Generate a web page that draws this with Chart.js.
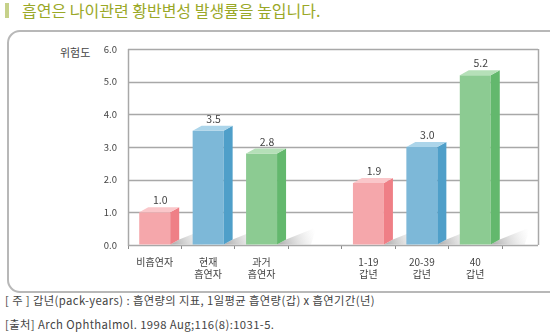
<!DOCTYPE html>
<html><head><meta charset="utf-8">
<script src="https://cdn.jsdelivr.net/npm/chart.js@4"></script>
<style>
html,body{margin:0;padding:0;background:#fff;width:550px;height:334px;overflow:hidden;font-family:"Noto Sans CJK KR","Noto Sans",sans-serif;}
#title{position:absolute;left:22px;top:-1px;font-size:16px;line-height:22px;color:#9aa827;}
#mark{position:absolute;left:5px;top:3px;width:4px;height:15px;background:#c6d18a;}
#box{position:absolute;left:7px;top:30px;width:560px;height:263px;border:2px solid #b8b8b8;border-radius:13px;box-sizing:border-box;}
#ylab{position:absolute;left:60px;top:44px;font-size:11px;color:#444;}
.note{position:absolute;left:5px;font-size:11.3px;color:#444;white-space:nowrap;letter-spacing:0.4px;}
canvas{position:absolute;left:0;top:0;}
</style></head>
<body>
<div id="mark"></div>
<div id="title">흡연은 나이관련 황반변성 발생률을 높입니다.</div>
<div id="box"></div>
<div id="ylab">위험도</div>
<div class="note" style="top:292px">[ 주 ] 갑년(pack-years) : 흡연량의 지표, 1일평균 흡연량(갑) x 흡연기간(년)</div>
<div class="note" style="top:316px">[출처] Arch Ophthalmol. 1998 Aug;116(8):1031-5.</div>
<canvas id="c" width="550" height="334"></canvas>
<script>
const categories = [["비흡연자"], ["현재","흡연자"], ["과거","흡연자"], [""], ["1-19","갑년"], ["20-39","갑년"], ["40","갑년"]];
const riskValues = [1.0, 3.5, 2.8, null, 1.9, 3.0, 5.2];
const yTicks = [0, 1, 2, 3, 4, 5, 6];
const frontColors = ["#f5a7ab", "#7db8d8", "#8ccb92", "#ccc", "#f5a7ab", "#7db8d8", "#8ccb92"];
const sideColors  = ["#ef7f86", "#4f9fc9", "#63b86d", "#ccc", "#ef7f86", "#4f9fc9", "#63b86d"];
const topColors   = ["#fac7ca", "#acd5ea", "#b5e0b8", "#ccc", "#fac7ca", "#acd5ea", "#b5e0b8"];

const DX = 9, DY = 5, PLOT_RIGHT = 538;
const font = '"Noto Sans CJK KR","Noto Sans",sans-serif';

const deco = {
  id: 'deco',
  beforeDatasetsDraw(chart) {
    const ctx = chart.ctx, y = chart.scales.y, ca = chart.chartArea;
    ctx.save();
    ctx.strokeStyle = '#a8a8a8';
    ctx.lineWidth = 1.5;
    yTicks.forEach(v => {
      const py = Math.round(y.getPixelForValue(v)) + 0.5;
      ctx.beginPath(); ctx.moveTo(ca.left, py); ctx.lineTo(PLOT_RIGHT, py); ctx.stroke();
    });
    const top = y.getPixelForValue(6), bot = y.getPixelForValue(0);
    ctx.beginPath(); ctx.moveTo(PLOT_RIGHT + 0.5, top); ctx.lineTo(PLOT_RIGHT + 0.5, bot); ctx.stroke();
    ctx.beginPath(); ctx.moveTo(ca.left + 0.5, top); ctx.lineTo(ca.left + 0.5, bot + 1); ctx.stroke();
    const meta = chart.getDatasetMeta(0);
    meta.data.forEach((bar, i) => {
      if (riskValues[i] == null) return;
      const xr = bar.x + bar.width / 2, base = bar.base;
      const g = ctx.createLinearGradient(xr, base, xr + 38, base - 14);
      g.addColorStop(0, 'rgba(110,110,110,0.6)');
      g.addColorStop(1, 'rgba(200,200,200,0)');
      ctx.fillStyle = g;
      ctx.beginPath();
      ctx.moveTo(xr, base);
      ctx.lineTo(xr + DX, base - DY);
      ctx.lineTo(xr + DX + 30, base - DY - 12);
      ctx.lineTo(xr + 34, base);
      ctx.closePath(); ctx.fill();
    });
    ctx.restore();
  },
  afterDatasetsDraw(chart) {
    const ctx = chart.ctx;
    const meta = chart.getDatasetMeta(0);
    ctx.save();
    meta.data.forEach((bar, i) => {
      if (riskValues[i] == null) return;
      const xl = bar.x - bar.width / 2, xr = bar.x + bar.width / 2, top = bar.y, base = bar.base;
      ctx.fillStyle = sideColors[i];
      ctx.beginPath();
      ctx.moveTo(xr, top); ctx.lineTo(xr + DX, top - DY); ctx.lineTo(xr + DX, base - DY); ctx.lineTo(xr, base);
      ctx.closePath(); ctx.fill();
      ctx.fillStyle = topColors[i];
      ctx.beginPath();
      ctx.moveTo(xl, top); ctx.lineTo(xl + DX, top - DY); ctx.lineTo(xr + DX, top - DY); ctx.lineTo(xr, top);
      ctx.closePath(); ctx.fill();
      ctx.fillStyle = '#444';
      ctx.font = '10.5px ' + font;
      ctx.textAlign = 'center'; ctx.textBaseline = 'middle';
      ctx.fillText(riskValues[i].toFixed(1), bar.x + DX / 2 + 1, top - 12);
    });
    ctx.restore();
  }
};

new Chart(document.getElementById('c'), {
  type: 'bar',
  data: {
    labels: categories,
    datasets: [{
      data: riskValues,
      backgroundColor: frontColors,
      borderWidth: 0,
      barPercentage: 0.58,
      categoryPercentage: 1.0
    }]
  },
  options: {
    responsive: false,
    animation: false,
    events: [],
    layout: { padding: { left: 0, right: 550 - 502, top: 49, bottom: 0 } },
    plugins: { legend: { display: false }, tooltip: { enabled: false } },
    scales: {
      x: {
        afterFit(s) { s.height = 334 - 245; },
        grid: { offset: true, drawOnChartArea: false, drawTicks: true, tickLength: 4, color: '#8a8a8a', lineWidth: 1 },
        border: { display: false },
        ticks: { color: '#444', font: { family: font, size: 10 }, padding: 7, maxRotation: 0, autoSkip: false }
      },
      y: {
        min: 0, max: 6,
        afterFit(s) { s.width = 128; },
        afterBuildTicks(s) { s.ticks = yTicks.map(v => ({ value: v })); },
        grid: { drawOnChartArea: false, drawTicks: false },
        border: { display: false },
        ticks: { color: '#444', font: { family: font, size: 9.5 }, padding: 11, callback: v => Number(v).toFixed(1) }
      }
    }
  },
  plugins: [deco]
});
</script>
</body></html>
